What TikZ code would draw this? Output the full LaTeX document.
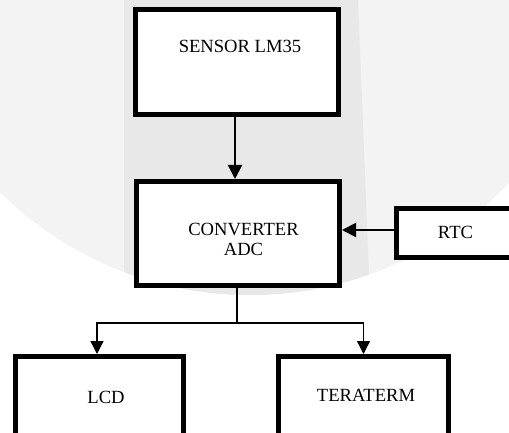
\documentclass[tikz,border=0pt]{standalone}
\usepackage{fontspec}
\setmainfont{Liberation Serif}
\usetikzlibrary{arrows.meta}
\definecolor{wmlight}{HTML}{F3F3F3}
\definecolor{wmdark}{HTML}{E8E8E8}

\begin{document}
\begin{tikzpicture}[x=1pt,y=-1pt,
        blok/.style={draw, line width=5pt, fill=white, inner sep=0pt},
        teks/.style={font=\fontsize{18.6}{20}\selectfont, align=center, inner sep=0pt},
        panah/.style={line width=2pt, -{Triangle[length=14pt,width=14pt]}},
        garis/.style={line width=1.3pt}]
        \useasboundingbox (0,0) rectangle (509,433);
        \clip (0,0) rectangle (509,433);

        % Фон
        \fill[white] (0,0) rectangle (509,433);
        \fill[wmlight] (250,-60) circle[radius=355pt];
        \begin{scope}
            \clip (250,-60) circle[radius=355pt];
            \fill[wmdark] (124,0) -- (358,0) -- (370,300) -- (124,300) -- cycle;
        \end{scope}

        % Блоки
        \node[blok, minimum width=203pt, minimum height=105pt] (sensor) at (237,62) {};
        \node[blok, minimum width=203pt, minimum height=104pt] (conv) at (238,233.5) {};
        \node[blok, minimum width=134pt, minimum height=49pt] (rtc) at (463.5,233) {};
        \node[blok, minimum width=168pt, minimum height=100pt] (lcd) at (99.5,406.5) {};
        \node[blok, minimum width=170pt, minimum height=100pt] (tera) at (363.5,406.5) {};

        % Подписи блоков
        \node[teks] (sensortxt) at (240,46.5) {SENSOR LM35};
        \node[teks] (convtxt)   at (243.5,239.5) {CONVERTER\\ADC};
        \node[teks] (rtctxt)    at (455.5,232) {RTC};
        \node[teks] (lcdtxt)    at (106,397) {LCD};
        \node[teks] (teratxt)   at (366,395) {TERATERM};

        % Стрелки
        \coordinate (split) at (237,323);
        \draw[panah] (sensor.south -| 235,0) -- (conv.north -| 235,0);
        \draw[panah] (rtc.west |- 0,230) -- (conv.east |- 0,230);
        \draw[garis] (conv.south -| split) -- (split);
        \draw[garis, -{Triangle[length=13pt,width=13pt]}] (split) -| (lcd.north -| 97,0);
        \draw[garis, -{Triangle[length=13pt,width=13pt]}] (split) -| (tera.north);
    \end{tikzpicture}
\end{document}
